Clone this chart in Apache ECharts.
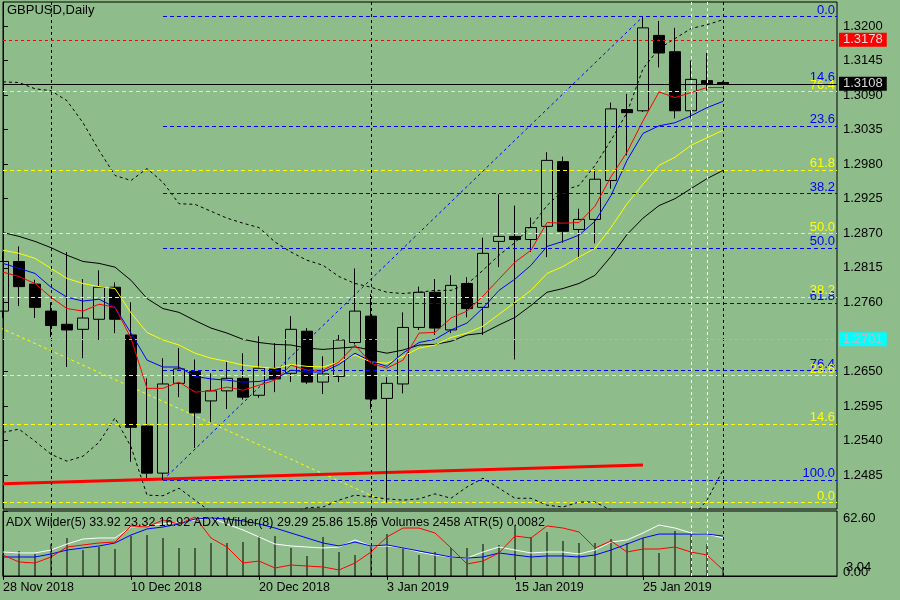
<!DOCTYPE html>
<html>
<head>
<meta charset="utf-8">
<script src="https://cdn.jsdelivr.net/npm/echarts@6.0.0/dist/echarts.min.js"></script>
<style>
  html, body { margin: 0; padding: 0; background: #8FBC8B; }
  #chart { width: 900px; height: 600px; }
</style>
</head>
<body>
<div id="chart"></div>
<script>
// bar dates (daily, weekdays with trading)
var dates = ['28 Nov 2018', '29 Nov 2018', '30 Nov 2018', '3 Dec 2018', '4 Dec 2018', '5 Dec 2018',
  '6 Dec 2018', '7 Dec 2018', '10 Dec 2018', '11 Dec 2018', '12 Dec 2018', '13 Dec 2018', '14 Dec 2018',
  '17 Dec 2018', '18 Dec 2018', '19 Dec 2018', '20 Dec 2018', '21 Dec 2018', '24 Dec 2018', '26 Dec 2018',
  '27 Dec 2018', '28 Dec 2018', '31 Dec 2018', '2 Jan 2019', '3 Jan 2019', '4 Jan 2019', '7 Jan 2019',
  '8 Jan 2019', '9 Jan 2019', '10 Jan 2019', '11 Jan 2019', '14 Jan 2019', '15 Jan 2019', '16 Jan 2019',
  '17 Jan 2019', '18 Jan 2019', '21 Jan 2019', '22 Jan 2019', '23 Jan 2019', '24 Jan 2019', '25 Jan 2019',
  '28 Jan 2019', '29 Jan 2019', '30 Jan 2019', '31 Jan 2019', '1 Feb 2019'];
var dateTicks = [0, 8, 16, 24, 32, 40];

// open, close, low, high
var candles = [
  [1.2746, 1.2825, 1.2735, 1.2840], [1.2825, 1.2785, 1.2754, 1.2849], [1.2789, 1.2752, 1.2735, 1.2796],
  [1.2746, 1.2723, 1.2705, 1.2760], [1.2725, 1.2716, 1.2657, 1.2840], [1.2717, 1.2735, 1.2671, 1.2797],
  [1.2733, 1.2784, 1.2700, 1.2811], [1.2784, 1.2733, 1.2711, 1.2792], [1.2708, 1.2561, 1.2506, 1.2760],
  [1.2563, 1.2488, 1.2480, 1.2639], [1.2488, 1.2630, 1.2477, 1.2671], [1.2631, 1.2654, 1.2609, 1.2687],
  [1.2650, 1.2584, 1.2528, 1.2669], [1.2603, 1.2619, 1.2569, 1.2647], [1.2619, 1.2639, 1.2590, 1.2665],
  [1.2639, 1.2609, 1.2605, 1.2679], [1.2612, 1.2655, 1.2608, 1.2706], [1.2655, 1.2638, 1.2617, 1.2695],
  [1.2647, 1.2717, 1.2633, 1.2738], [1.2714, 1.2633, 1.2630, 1.2719], [1.2633, 1.2646, 1.2614, 1.2674],
  [1.2642, 1.2700, 1.2633, 1.2708], [1.2696, 1.2746, 1.2693, 1.2814], [1.2738, 1.2606, 1.2590, 1.2773],
  [1.2607, 1.2631, 1.2441, 1.2641], [1.2630, 1.2720, 1.2615, 1.2744], [1.2720, 1.2776, 1.2716, 1.2785],
  [1.2776, 1.2719, 1.2708, 1.2797], [1.2716, 1.2787, 1.2711, 1.2803], [1.2790, 1.2750, 1.2736, 1.2800],
  [1.2752, 1.2838, 1.2708, 1.2863], [1.2857, 1.2865, 1.2816, 1.2932], [1.2865, 1.2860, 1.2669, 1.2914],
  [1.2860, 1.2879, 1.2840, 1.2895], [1.2881, 1.2986, 1.2832, 1.2999], [1.2984, 1.2873, 1.2855, 1.2992],
  [1.2876, 1.2892, 1.2830, 1.2909], [1.2892, 1.2956, 1.2854, 1.2972], [1.2954, 1.3068, 1.2941, 1.3078],
  [1.3067, 1.3062, 1.2994, 1.3092], [1.3065, 1.3197, 1.3063, 1.3215], [1.3185, 1.3157, 1.3134, 1.3208],
  [1.3159, 1.3065, 1.3053, 1.3197], [1.3065, 1.3115, 1.3053, 1.3145], [1.3113, 1.3108, 1.3097, 1.3157],
  [1.3110, 1.3108, 1.3106, 1.3112]
];

var maRed = [1.2808, 1.2801, 1.2790, 1.2768, 1.2750, 1.2746, 1.2757, 1.2752, 1.2703, 1.2623, 1.2623, 1.2633,
  1.2617, 1.2619, 1.2625, 1.2620, 1.2628, 1.2636, 1.2660, 1.2652, 1.2652, 1.2665, 1.2692, 1.2663, 1.2655,
  1.2668, 1.2711, 1.2712, 1.2735, 1.2746, 1.2770, 1.2797, 1.2824, 1.2843, 1.2887, 1.2886, 1.2887, 1.2913,
  1.2960, 1.2999, 1.3049, 1.3095, 1.3086, 1.3094, 1.3102, 1.3102];
var maBlue = [1.2822, 1.2814, 1.2806, 1.2784, 1.2768, 1.2762, 1.2765, 1.2752, 1.2711, 1.2668, 1.2657, 1.2657,
  1.2642, 1.2638, 1.2636, 1.2633, 1.2634, 1.2638, 1.2652, 1.2649, 1.2649, 1.2661, 1.2679, 1.2666, 1.2658,
  1.2679, 1.2696, 1.2701, 1.2716, 1.2727, 1.2751, 1.2779, 1.2797, 1.2819, 1.2849, 1.2857, 1.2867, 1.2889,
  1.2930, 1.2986, 1.3029, 1.3041, 1.3046, 1.3057, 1.3070, 1.3080];
var maYellow = [1.2843, 1.2838, 1.2830, 1.2814, 1.2798, 1.2790, 1.2785, 1.2782, 1.2743, 1.2712, 1.2700, 1.2692,
  1.2679, 1.2671, 1.2666, 1.2660, 1.2657, 1.2655, 1.2661, 1.2658, 1.2657, 1.2665, 1.2676, 1.2665, 1.2663,
  1.2674, 1.2687, 1.2692, 1.2704, 1.2711, 1.2722, 1.2741, 1.2760, 1.2779, 1.2806, 1.2817, 1.2832, 1.2846,
  1.2879, 1.2917, 1.2948, 1.2978, 1.2991, 1.3010, 1.3022, 1.3034];
var maBlack = [1.2871, 1.2865, 1.2857, 1.2847, 1.2835, 1.2825, 1.2822, 1.2816, 1.2795, 1.2766, 1.2750, 1.2744,
  1.2731, 1.2719, 1.2711, 1.2701, 1.2696, 1.2693, 1.2692, 1.2687, 1.2685, 1.2687, 1.2689, 1.2684, 1.2679,
  1.2684, 1.2692, 1.2693, 1.2698, 1.2708, 1.2711, 1.2724, 1.2736, 1.2755, 1.2776, 1.2782, 1.2790, 1.2803,
  1.2833, 1.2868, 1.2894, 1.2914, 1.2925, 1.2941, 1.2957, 1.2970];
var bandUpper = [1.3111, 1.3110, 1.3100, 1.3097, 1.3081, 1.3046, 1.3002, 1.2962, 1.2954, 1.2973, 1.2951, 1.2917,
  1.2916, 1.2905, 1.2894, 1.2886, 1.2879, 1.2856, 1.2840, 1.2827, 1.2819, 1.2801, 1.2790, 1.2784, 1.2776,
  1.2774, 1.2776, 1.2779, 1.2779, 1.2789, 1.2811, 1.2835, 1.2855, 1.2881, 1.2914, 1.2938, 1.2946, 1.2978,
  1.3018, 1.3062, 1.3132, 1.3164, 1.3180, 1.3196, 1.3202, 1.3210];
var bandLower = [1.2553, 1.2558, 1.2539, 1.2518, 1.2507, 1.2515, 1.2537, 1.2576, 1.2530, 1.2453, 1.2452, 1.2464,
  1.2445, 1.2426, 1.2417, 1.2413, 1.2413, 1.2417, 1.2423, 1.2433, 1.2434, 1.2445, 1.2453, 1.2450, 1.2447,
  1.2445, 1.2447, 1.2455, 1.2448, 1.2466, 1.2480, 1.2464, 1.2448, 1.2448, 1.2437, 1.2434, 1.2442, 1.2442,
  1.2429, 1.2421, 1.2413, 1.2410, 1.2413, 1.2415, 1.2445, 1.2493];

// lower window: ADX lines and volumes
var adxWhite = [23.1, 22.2, 22.2, 25.0, 30.8, 35.6, 36.6, 36.6, 47.2, 48.2, 50.1, 52.0, 53.9, 55.9, 50.0, 44.3,
  37.6, 30.8, 28.9, 27.9, 27.0, 27.9, 34.7, 28.9, 28.9, 27.0, 23.1, 20.2, 18.3, 17.3, 23.1, 27.9, 25.0, 22.2,
  23.1, 23.1, 21.2, 25.0, 32.7, 34.7, 41.4, 49.1, 46.2, 41.4, 40.4, 36.6];
var adxBlue = [18.3, 18.3, 18.3, 21.2, 25.0, 27.0, 28.9, 31.8, 39.5, 45.3, 47.2, 50.1, 54.9, 55.9, 54.9, 53.0,
  50.1, 46.2, 41.4, 36.6, 31.8, 28.9, 32.7, 28.9, 29.9, 27.0, 24.1, 21.2, 18.3, 17.3, 18.3, 22.2, 20.2, 18.3,
  19.3, 19.3, 18.3, 20.2, 25.0, 30.8, 36.6, 40.4, 40.4, 40.4, 40.4, 38.5];
var adxRed = [20.2, 13.5, 12.5, 18.3, 27.9, 29.9, 31.8, 32.7, 48.2, 47.2, 53.9, 50.1, 56.8, 36.6, 27.9, 12.5,
  14.4, 7.7, 10.6, 9.6, 8.7, 5.8, 12.5, 23.1, 37.6, 46.2, 46.2, 41.4, 27.0, 11.6, 14.4, 22.2, 38.5, 36.6,
  48.2, 46.2, 42.4, 27.0, 33.7, 23.1, 26.0, 26.0, 27.9, 23.1, 20.2, 5.8];
var volumes = [6000, 6830, 6000, 8740, 10370, 7100, 7920, 7370, 10920, 11190, 10370, 7640, 7640, 9010, 9010,
  9280, 10920, 10920, 7640, 5460, 10650, 6550, 5730, 8190, 11470, 7920, 5730, 6550, 7640, 7640, 8740, 8460,
  13920, 10650, 12010, 9560, 9010, 9010, 10100, 9010, 10370, 6280, 12290, 11470, 8740, 2458];

// price scale ticks and lower window scale
var priceTicks = [1.2485, 1.2540, 1.2595, 1.2650, 1.2760, 1.2815, 1.2870, 1.2925, 1.2980, 1.3035, 1.3090, 1.3145, 1.3200];
var subTicks = [0, 62.6];
var subMidTick = [3.04];

// fibonacci retracements
var fibLevels = [0, 14.6, 23.6, 38.2, 50, 61.8, 76.4, 100];
var blueFib = { from: 10, to: 40, low: 1.2477, high: 1.3215 };
var yellowFib = { from: -50.4, to: 24, low: 1.2441, high: 1.3298 };
var trendRed = [[0, 1.2471], [40, 1.2501]];

// horizontal price lines
var bidPrice = 1.3108, askLine = 1.3178, cyanLine = 1.2701;
var separators = [3, 23, 45];
var whiteMarks = [43, 44];

var FONT = 'Liberation Sans';
var X_MAX = 52.125, Y_MIN = 1.24309, Y_MAX = 1.32382;

function pts(arr) { return arr.map(function (v, i) { return [i, v]; }); }
function maLine(name, arr, color, dashed) {
  return {
    name: name, type: 'line', xAxisIndex: 0, yAxisIndex: 0, data: pts(arr), symbol: 'none', z: 4,
    lineStyle: { color: color, width: 1, type: dashed ? [3, 3] : 'solid' }, silent: true
  };
}
function fibMarks(fib, color, fromTop) {
  var list = [];
  fibLevels.forEach(function (lvl) {
    var p = fromTop ? fib.high - (fib.high - fib.low) * lvl / 100 : fib.low + (fib.high - fib.low) * lvl / 100;
    if (p > Y_MAX || p < Y_MIN) return;
    list.push([
      { coord: [Math.max(fib.from, 0), p],
        label: { show: true, position: 'insideEndTop', formatter: lvl.toFixed(1), color: color,
          fontSize: 13, fontFamily: FONT, distance: [2, 0] } },
      { coord: [X_MAX, p] }
    ]);
  });
  return list;
}
function vMarks(list, color) {
  return list.map(function (v) {
    return { xAxis: v, lineStyle: { color: color, type: [3, 3], width: 1 }, label: { show: false } };
  });
}
function boxLine(value, lineColor, lineType, bg, fg) {
  return {
    yAxis: value, lineStyle: { color: lineColor, type: lineType, width: 1 },
    label: { show: true, position: 'end', formatter: value.toFixed(4), backgroundColor: bg, color: fg,
      padding: [1, 4, 0, 4], fontSize: 13, fontFamily: FONT, distance: 2 }
  };
}

var chart = echarts.init(document.getElementById('chart'));
chart.setOption({
  animation: false,
  backgroundColor: '#8FBC8B',
  title: [
    { text: 'GBPUSD,Daily', left: 7, top: 4, padding: 0,
      textStyle: { fontSize: 13, fontWeight: 'normal', color: '#000', fontFamily: FONT } },
    { text: 'ADX Wilder(5) 33.92 23.32 16.92 ADX Wilder(8) 29.29 25.86 15.86 Volumes 2458 ATR(5) 0.0082',
      left: 6, top: 516, padding: 0,
      textStyle: { fontSize: 12.5, fontWeight: 'normal', color: '#000', fontFamily: FONT } }
  ],
  grid: [
    { left: 3, right: 63, top: 2, height: 507, show: true, borderColor: '#000', borderWidth: 1 },
    { left: 3, right: 63, top: 511, height: 65, show: true, borderColor: '#000', borderWidth: 1 }
  ],
  xAxis: [
    { type: 'value', gridIndex: 0, min: 0, max: X_MAX, axisLine: { show: false }, axisTick: { show: false },
      axisLabel: { show: false }, splitLine: { show: false } },
    { type: 'value', gridIndex: 1, min: 0, max: X_MAX, splitLine: { show: false },
      axisLine: { show: true, lineStyle: { color: '#000' } },
      axisTick: { show: true, customValues: dateTicks, length: 4, lineStyle: { color: '#000' } },
      axisLabel: { customValues: dateTicks, align: 'left', margin: 5, color: '#000', fontSize: 12.5, fontFamily: FONT,
        formatter: function (v) { return dates[Math.round(v)] || ''; } } }
  ],
  yAxis: [
    { type: 'value', gridIndex: 0, position: 'right', min: Y_MIN, max: Y_MAX, scale: true,
      splitLine: { show: false }, axisLine: { show: true, lineStyle: { color: '#000' } },
      axisTick: { show: true, customValues: priceTicks, length: 5, lineStyle: { color: '#000' } },
      axisLabel: { customValues: priceTicks, margin: 6, color: '#000', fontSize: 13, fontFamily: FONT,
        formatter: function (v) { return v.toFixed(4); } } },
    { type: 'value', gridIndex: 1, position: 'right', min: 0, max: 62.6, splitLine: { show: false },
      axisLine: { show: true, lineStyle: { color: '#000' } },
      axisTick: { show: true, customValues: subTicks, length: 5, lineStyle: { color: '#000' } },
      axisLabel: { customValues: subTicks, margin: 6, color: '#000', fontSize: 13, fontFamily: FONT,
        formatter: function (v) { return v > 60 ? '{t|62.60}' : '{b|0.00}'; },
        rich: { t: { padding: [14, 0, 0, 0], fontSize: 13, fontFamily: FONT },
          b: { padding: [0, 0, 8, 0], fontSize: 13, fontFamily: FONT } } } },
    { type: 'value', gridIndex: 1, min: 0, max: 17745, show: false },
    { type: 'value', gridIndex: 1, position: 'right', min: 0, max: 62.6, splitLine: { show: false },
      axisLine: { show: false }, axisTick: { show: false },
      axisLabel: { customValues: subMidTick, margin: 9, color: '#000', fontSize: 13, fontFamily: FONT,
        formatter: function (v) { return '{m|' + v.toFixed(2) + '}'; },
        rich: { m: { padding: [0, 0, 10, 0], fontSize: 13, fontFamily: FONT } } } }
  ],
  series: [
    {
      name: 'GBPUSD', type: 'candlestick', xAxisIndex: 0, yAxisIndex: 0, barWidth: 11, z: 3,
      data: candles.map(function (c, i) { return [i, c[0], c[1], c[2], c[3]]; }),
      encode: { x: 0, y: [1, 2, 3, 4] },
      itemStyle: { color: 'rgba(0,0,0,0)', color0: '#000', borderColor: '#000', borderColor0: '#000', borderWidth: 1 },
      markLine: {
        symbol: ['none', 'none'], silent: true, z: 6, precision: 5,
        data: [
          boxLine(askLine, '#FF0000', [3, 3], '#FF0000', '#F2D6D6'),
          boxLine(bidPrice, '#000', 'solid', '#000', '#D8D8D8'),
          boxLine(cyanLine, '#00FFFF', [3, 3], '#00FFFF', '#BDBDBD')
        ]
      }
    },
    {
      name: 'blue fibo', type: 'line', xAxisIndex: 0, yAxisIndex: 0, symbol: 'none', silent: true, z: 2,
      data: [[blueFib.from, blueFib.low], [blueFib.to, blueFib.high]],
      lineStyle: { color: '#0000FF', width: 1, type: [3, 3] },
      markLine: { symbol: ['none', 'none'], silent: true, precision: 5,
        lineStyle: { color: '#0000FF', width: 1, type: [4, 3] },
        data: fibMarks(blueFib, '#0000FF', true) }
    },
    {
      name: 'yellow fibo', type: 'line', xAxisIndex: 0, yAxisIndex: 0, symbol: 'none', silent: true, z: 2,
      data: [[yellowFib.from, yellowFib.high], [yellowFib.to, yellowFib.low]],
      lineStyle: { color: '#FFFF00', width: 1, type: [3, 3] },
      markLine: { symbol: ['none', 'none'], silent: true, precision: 5,
        lineStyle: { color: '#FFFF00', width: 1, type: [4, 3] },
        data: fibMarks(yellowFib, '#FFFF00', false) }
    },
    {
      name: 'trend', type: 'line', xAxisIndex: 0, yAxisIndex: 0, symbol: 'none', silent: true, z: 3,
      data: trendRed, lineStyle: { color: '#FF0000', width: 3 }
    },
    maLine('upper band', bandUpper, '#000', true),
    maLine('lower band', bandLower, '#000', true),
    Object.assign(maLine('ma black', maBlack, '#000', false), {
      markLine: { symbol: ['none', 'none'], silent: true,
        data: vMarks(separators, '#000').concat(vMarks(whiteMarks, '#FFFFFF')) }
    }),
    maLine('ma yellow', maYellow, '#FFFF00', false),
    maLine('ma blue', maBlue, '#0000FF', false),
    maLine('ma red', maRed, '#FF0000', false),
    {
      name: 'Volumes', type: 'bar', xAxisIndex: 1, yAxisIndex: 2, barWidth: 1, silent: true,
      data: pts(volumes), itemStyle: { color: '#000' },
      markLine: { symbol: ['none', 'none'], silent: true,
        data: vMarks(separators, '#000').concat(vMarks(whiteMarks, '#FFFFFF')) }
    },
    { name: 'ADX white', type: 'line', xAxisIndex: 1, yAxisIndex: 1, symbol: 'none', silent: true,
      data: pts(adxWhite), lineStyle: { color: '#FFFFFF', width: 1 } },
    { name: 'ADX blue', type: 'line', xAxisIndex: 1, yAxisIndex: 1, symbol: 'none', silent: true,
      data: pts(adxBlue), lineStyle: { color: '#0000FF', width: 1 } },
    { name: 'ADX red', type: 'line', xAxisIndex: 1, yAxisIndex: 1, symbol: 'none', silent: true,
      data: pts(adxRed), lineStyle: { color: '#FF0000', width: 1 } }
  ]
});
</script>
</body>
</html>
